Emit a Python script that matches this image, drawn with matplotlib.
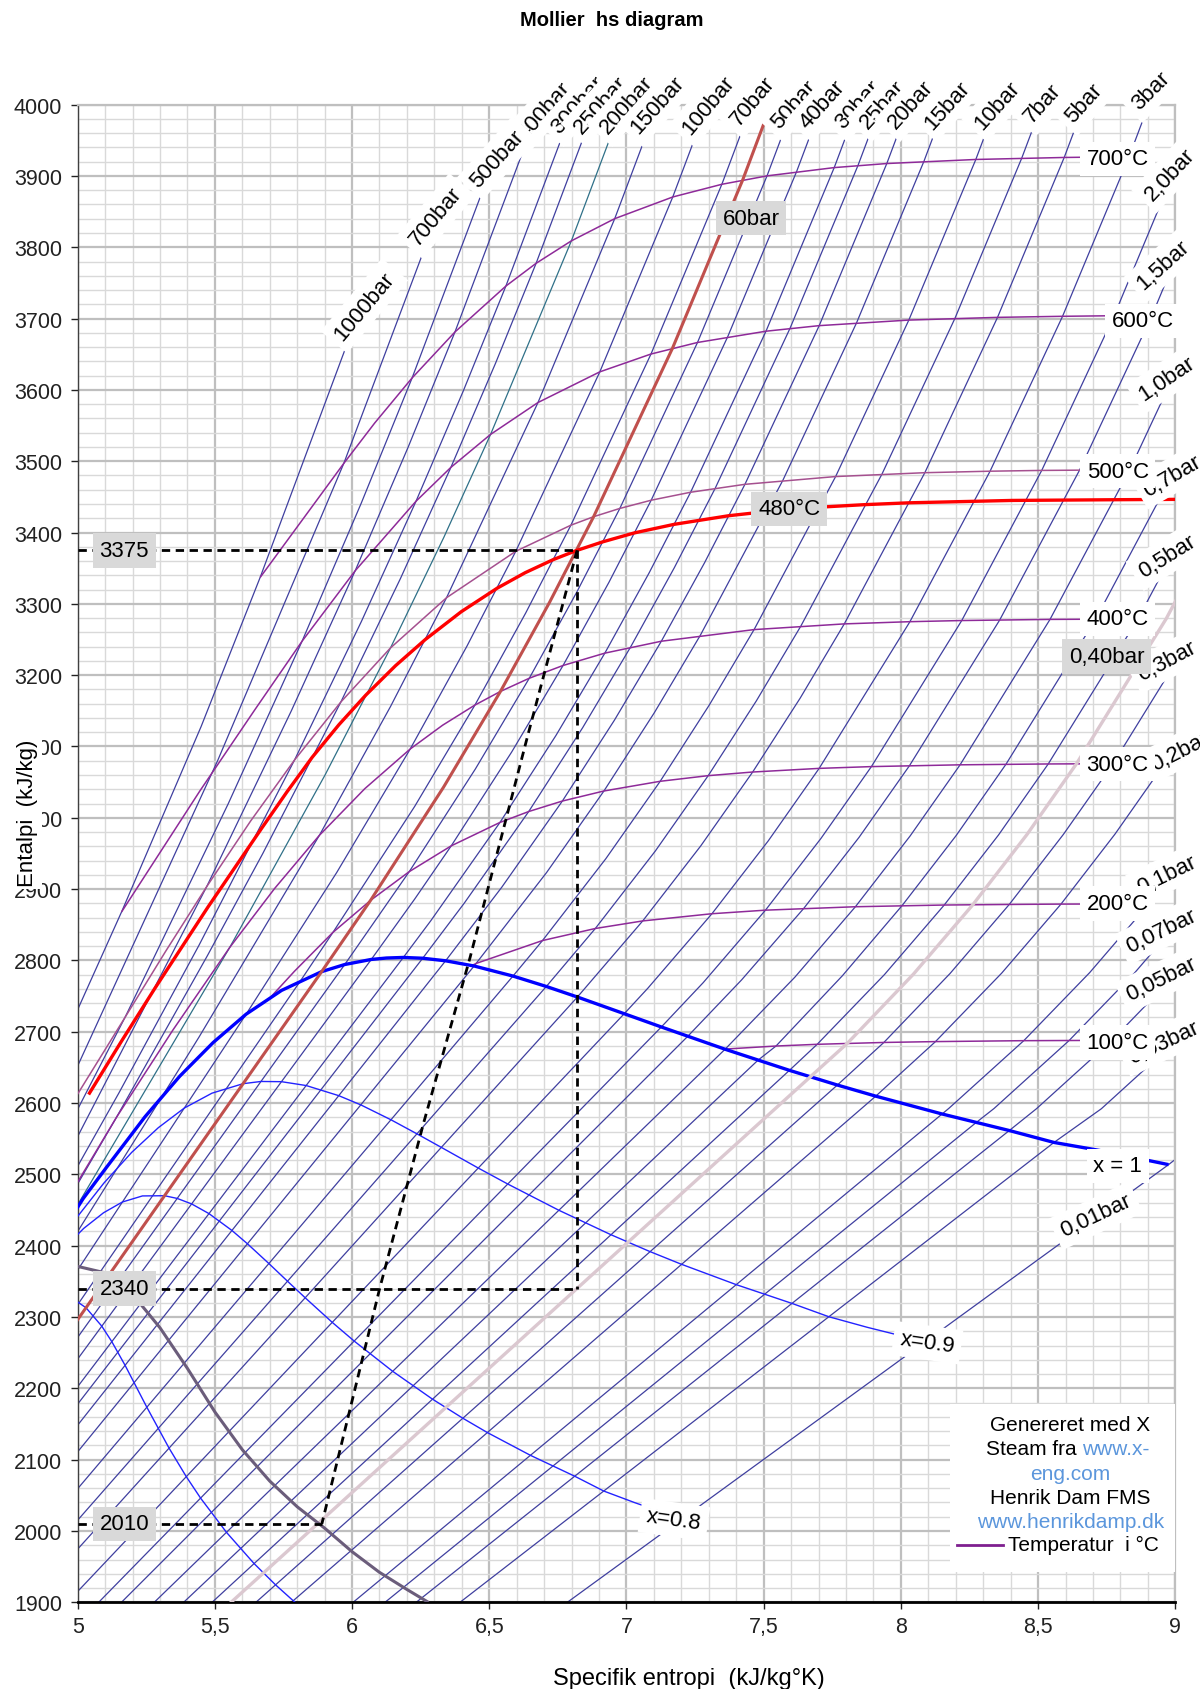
import matplotlib.pyplot as plt
from matplotlib.patches import Rectangle
from matplotlib.ticker import MultipleLocator, FuncFormatter

plt.rcParams['font.family'] = ['Liberation Sans', 'DejaVu Sans']

# ---------------- isobars, points (s kJ/kgK, h kJ/kg) ----------------
bar_1000 = [(4.90, 2645), (5.00, 2731), (5.16, 2868), (5.45, 3128), (5.665, 3337), (5.967, 3649), (6.06, 3745)]
bar_700 = [(4.90, 2570), (5.00, 2652), (5.51, 3080), (5.97, 3497), (6.31, 3845)]
bar_500 = [(4.5884, 2284.0), (5.1726, 2720.1), (5.5485, 3019.5), (5.8178, 3247.6), (6.0342, 3441.8),
           (6.2189, 3616.8), (6.5290, 3933.6)]
bar_400 = [(4.5029, 2198.1), (4.9459, 2512.8), (5.4700, 2903.3), (5.7785, 3149.8), (6.0114, 3346.4),
           (6.2054, 3520.6), (6.3750, 3681.2), (6.6662, 3978.7)]
bar_300 = [(4.4728, 2151.1), (5.1504, 2614.2), (5.4424, 2821.4), (5.7905, 3081.1), (6.0342, 3275.4),
           (6.2331, 3443.9), (6.4058, 3598.9), (6.5606, 3745.6), (6.8332, 4024.2)]
bar_250 = [(4.0320, 1848.0), (5.1418, 2580.2), (5.4723, 2806.3), (5.6744, 2949.7), (5.9592, 3162.4),
           (6.1765, 3335.6), (6.3602, 3491.4), (6.5229, 3637.4), (6.6707, 3777.5), (6.9345, 4047.1)]
bar_200 = [(4.0146, 1826.3), (4.9269, 2409.7), (5.5540, 2818.1), (5.9017, 3060.1), (6.1401, 3238.2),
           (6.3348, 3393.5), (6.5048, 3537.6), (6.7993, 3809.0), (7.0544, 4069.7)]
bar_150 = [(3.6848, 1610.5), (5.3098, 2610.5), (5.4421, 2692.4), (5.8811, 2975.5), (6.1404, 3156.2),
           (6.3443, 3308.6), (6.6776, 3582.3), (6.9572, 3840.1), (7.2040, 4092.4)]
bar_100 = [(3.3596, 1407.6), (5.6141, 2724.7), (5.9443, 2923.4), (6.2120, 3096.5), (6.4190, 3240.9),
           (6.5966, 3373.7), (6.9029, 3625.3), (7.1687, 3870.5), (7.4077, 4114.9)]
bar_70 = [(3.1220, 1267.0), (5.8133, 2772.1), (5.9305, 2839.4), (6.2283, 3016.0), (6.4478, 3158.1),
          (6.6327, 3287.1), (6.7975, 3410.3), (7.0894, 3650.3), (7.3476, 3888.3), (7.5822, 4128.2)]
bar_60 = [(3.0267, 1213.4), (5.8892, 2784.3), (6.0674, 2884.2), (6.3335, 3043.0), (6.5408, 3177.2),
          (6.7193, 3301.8), (6.8803, 3422.2), (7.1677, 3658.4), (7.4234, 3894.2), (7.6566, 4132.7)]
bar_50 = [(2.9202, 1154.2), (5.9734, 2794.3), (6.2084, 2924.5), (6.4493, 3068.4), (6.6459, 3195.7),
          (6.8186, 3316.2), (6.9759, 3433.8), (7.2589, 3666.5), (7.5122, 3900.1), (7.7440, 4137.1)]
bar_40 = [(2.7964, 1087.3), (6.0701, 2801.4), (6.2285, 2886.2), (6.3615, 2960.7), (6.5821, 3092.5),
          (6.7690, 3213.6), (6.9363, 3330.3), (7.0901, 3445.3), (7.3688, 3674.4), (7.6198, 3905.9),
          (7.8502, 4141.5)]
bar_30 = [(2.6457, 1008.4), (6.1869, 2804.2), (6.2872, 2855.8), (6.5390, 2993.5), (6.7428, 3115.3),
          (6.9212, 3230.9), (7.0834, 3344.0), (7.2338, 3456.5), (7.5085, 3682.3), (7.7571, 3911.7),
          (7.9862, 4145.9)]
bar_25 = [(2.5547, 962.1), (6.2575, 2803.1), (6.4085, 2880.1), (6.6438, 3008.8), (6.8403, 3126.3),
          (7.0148, 3239.3), (7.1746, 3350.8), (7.3234, 3462.1), (7.5960, 3686.3), (7.8435, 3914.5),
          (8.0720, 4148.2)]
bar_20 = [(2.4474, 908.8), (6.3409, 2799.5), (6.5453, 2902.5), (6.7664, 3023.5), (6.9563, 3137.0),
          (7.1271, 3247.6), (7.2844, 3357.5), (7.4317, 3467.6), (7.7024, 3690.1), (7.9487, 3917.4),
          (8.1765, 4150.3)]
bar_15 = [(2.3150, 844.9), (6.4448, 2792.2), (6.7090, 2923.3), (6.9179, 3037.6), (7.1018, 3147.5),
          (7.2690, 3255.8), (7.5698, 3473.1), (7.8385, 3694.0), (8.0838, 3920.3), (8.3108, 4152.6)]
bar_10 = [(2.1387, 762.8), (6.5865, 2778.1), (6.6940, 2827.9), (6.9247, 2942.6), (7.1229, 3051.2),
          (7.3011, 3157.7), (7.4651, 3263.9), (7.7622, 3478.5), (8.0290, 3697.9), (8.2731, 3923.1),
          (8.4996, 4154.8)]
bar_7 = [(1.9922, 697.2), (6.7080, 2763.5), (6.8865, 2844.8), (7.1053, 2953.5), (7.2979, 3059.1),
         (7.4731, 3163.8), (7.6353, 3268.7), (7.9308, 3481.7), (8.1969, 3700.2), (8.4403, 3924.8),
         (8.6665, 4156.0)]
bar_5 = [(1.8607, 640.2), (6.8213, 2748.7), (7.0592, 2855.4), (7.2709, 2960.7), (7.4599, 3064.2),
         (7.6329, 3167.7), (7.7938, 3271.9), (8.0873, 3483.9), (8.3522, 3701.7), (8.5952, 3925.9),
         (8.8211, 4156.9)]
bar_3 = [(1.6718, 561.5), (6.9919, 2725.3), (7.0778, 2761.0), (7.3115, 2865.5), (7.5166, 2967.6),
         (7.7022, 3069.3), (8.0330, 3275.0), (8.3251, 3486.0), (8.5892, 3703.2), (8.8319, 3927.1),
         (9.0575, 4157.8)]
bar_2 = [(1.5301, 504.7), (7.1271, 2706.7), (7.2795, 2768.8), (7.5066, 2870.5), (7.7086, 2971.0),
         (7.8926, 3071.8), (8.2218, 3276.6), (8.5133, 3487.1), (8.7770, 3704.0), (9.0194, 3927.6)]
bar_1_5 = [(1.4336, 467.1), (7.2233, 2693.6), (7.4193, 2772.6), (7.6459, 2872.9), (7.8478, 2972.7),
           (8.0314, 3073.1), (8.3602, 3277.4), (8.6513, 3487.6), (8.9150, 3704.3), (9.1573, 3927.9)]
bar_1 = [(1.3026, 417.5), (7.3594, 2675.5), (7.6134, 2776.4), (7.8343, 2875.3), (8.0333, 2974.3),
         (8.2158, 3074.3), (8.5435, 3278.2), (8.8342, 3488.1), (9.0976, 3704.7)]
bar_0_7 = [(1.1919, 376.7), (7.4790, 2660.0), (7.5450, 2680.0), (7.7870, 2778.6), (8.0040, 2876.7),
           (8.2020, 2975.4), (8.3830, 3075.1), (8.7100, 3278.6), (9.0000, 3488.5)]
bar_0_5 = [(1.0910, 340.5), (7.5939, 2645.9), (7.6950, 2682.4), (7.9400, 2780.1), (8.1580, 2877.7),
           (8.3560, 2976.0), (8.5370, 3075.5), (8.8640, 3278.9), (9.1540, 3488.7)]
bar_0_4 = [(1.0259, 317.6), (7.6700, 2636.8), (7.8050, 2683.8), (8.0460, 2780.9), (8.2620, 2878.0),
           (8.4590, 2976.3), (8.6400, 3075.8), (8.9670, 3279.2), (9.2570, 3488.9)]
bar_0_3 = [(0.9439, 289.2), (7.7686, 2625.3), (7.9380, 2685.0), (8.1790, 2781.6), (8.3950, 2878.5),
           (8.5920, 2976.6), (8.7735, 3076.0), (9.1003, 3279.3)]
bar_0_2 = [(0.8320, 251.4), (7.9085, 2609.7), (8.1261, 2686.2), (8.3676, 2782.3), (8.5835, 2879.0),
           (8.7800, 2977.0), (8.9612, 3076.3), (9.2876, 3279.5)]
bar_0_1 = [(0.6493, 191.8), (8.1502, 2584.7), (8.1749, 2592.6), (8.4479, 2687.5), (8.6882, 2783.0),
           (8.9038, 2879.5), (9.1002, 2977.3)]
bar_0_07 = [(0.5592, 163.4), (8.2737, 2572.5), (8.3395, 2592.4), (8.6125, 2687.5), (8.8528, 2783.0),
            (9.0684, 2879.5)]
bar_0_05 = [(0.4764, 137.8), (8.3951, 2561.5), (8.4948, 2592.3), (8.7678, 2687.5), (9.0081, 2783.0)]
bar_0_03 = [(0.3543, 101.0), (8.5580, 2544.8), (8.7305, 2592.0), (9.0035, 2687.5)]
bar_0_01 = [(0.1059, 29.3), (8.9756, 2513.7), (9.2375, 2592.6)]

# ---------------- isotherms ----------------
t100 = [(7.3549, 2675.6), (7.5450, 2680.0), (7.6950, 2682.4), (7.9380, 2685.0), (8.1261, 2686.2),
        (8.4479, 2687.5), (8.79, 2688.0)]
t200 = [(6.4312, 2792.0), (6.4537, 2796.0), (6.6940, 2827.9), (6.8865, 2844.8), (7.0592, 2855.4),
        (7.3115, 2865.5), (7.5066, 2870.5), (7.8343, 2875.3), (8.1580, 2877.7), (8.3950, 2878.5),
        (8.5835, 2879.0), (8.79, 2879.2)]
t300 = [(5.7045, 2749.0), (5.7906, 2785.0), (5.9305, 2839.4), (6.0674, 2884.2), (6.2084, 2924.5),
        (6.3615, 2960.7), (6.5390, 2993.5), (6.6438, 3008.8), (6.7664, 3023.5), (6.9179, 3037.6),
        (7.1229, 3051.2), (7.2979, 3059.1), (7.4599, 3064.2), (7.7022, 3069.3), (7.8926, 3071.8),
        (8.2158, 3074.3), (8.5370, 3075.5), (8.79, 3075.9)]
t400 = [(4.4728, 2151.1), (5.1418, 2580.2), (5.348, 2702.9), (5.5540, 2818.1), (5.7176, 2900.8),
        (5.8811, 2975.5), (6.0466, 3040.9), (6.2120, 3096.5), (6.3299, 3129.8), (6.4478, 3158.1),
        (6.5408, 3177.2), (6.6459, 3195.7), (6.7690, 3213.6), (6.9212, 3230.9), (7.1271, 3247.6),
        (7.4651, 3263.9), (7.7938, 3271.9), (8.0330, 3275.0), (8.2218, 3276.6), (8.5435, 3278.2),
        (8.79, 3278.6)]
t480 = [(5.04, 2612), (5.16, 2686.9), (5.28, 2760), (5.475, 2874.9), (5.67, 2985), (5.7625, 3036.2),
        (5.855, 3085), (5.9525, 3130.7), (6.05, 3172), (6.1585, 3213.3), (6.267, 3250), (6.398, 3289),
        (6.529, 3322), (6.631, 3343.7), (6.733, 3362), (6.816, 3374.5), (6.914, 3387), (7.029, 3399.5),
        (7.174, 3411.5), (7.373, 3423.6), (7.539, 3430.6), (7.705, 3435.6), (7.868, 3439.1),
        (8.031, 3441.7), (8.405, 3445.0), (8.779, 3446), (9.0, 3446.5)]
t500 = [(4.9321, 2570.4), (5.1726, 2720.1), (5.321, 2813.0), (5.4700, 2903.3), (5.63, 2995.3),
        (5.7905, 3081.1), (5.9592, 3162.4), (6.1401, 3238.2), (6.3443, 3308.6), (6.5966, 3373.7),
        (6.7975, 3410.3), (6.8803, 3422.2), (6.9759, 3433.8), (7.0901, 3445.3), (7.2338, 3456.5),
        (7.4317, 3467.6), (7.7622, 3478.5), (8.0873, 3483.9), (8.3251, 3486.0), (8.5133, 3487.1),
        (8.79, 3487.8)]
t600 = [(5.16, 2868), (5.446, 3038), (5.6452, 3151.2), (5.8178, 3247.6), (6.0114, 3346.4),
        (6.2331, 3443.9), (6.3602, 3491.4), (6.5048, 3537.6), (6.6776, 3582.3), (6.9029, 3625.3),
        (7.0894, 3650.3), (7.2589, 3666.5), (7.5085, 3682.3), (7.7024, 3690.1), (8.0290, 3697.9),
        (8.3522, 3701.7), (8.5892, 3703.2), (8.7770, 3704.0), (8.88, 3704.3)]
t700 = [(5.665, 3337), (5.97, 3497), (6.0824, 3553.5), (6.2189, 3616.8), (6.3750, 3681.2),
        (6.5606, 3745.6), (6.6707, 3777.5), (6.7993, 3809.0), (6.9572, 3840.1), (7.1687, 3870.5),
        (7.3476, 3888.3), (7.5122, 3900.1), (7.7571, 3911.7), (7.9487, 3917.4), (8.2731, 3923.1),
        (8.5952, 3925.9), (8.79, 3926.8)]

# ---------------- saturation and quality lines ----------------
x_1 = [(4.9269, 2409.7), (5.02, 2466.0), (5.1044, 2509.5), (5.2455, 2580.8), (5.3717, 2637.5),
       (5.4939, 2684.9), (5.6141, 2724.7), (5.7432, 2758.0), (5.8892, 2784.3), (5.9734, 2794.3),
       (6.0701, 2801.4), (6.1253, 2803.4), (6.1869, 2804.2), (6.2575, 2803.1), (6.3409, 2799.5),
       (6.4448, 2792.2), (6.5865, 2778.1), (6.7080, 2763.5), (6.8213, 2748.7), (6.9919, 2725.3),
       (7.1271, 2706.7), (7.3594, 2675.5), (7.5939, 2645.9), (7.7686, 2625.3), (7.9085, 2609.7),
       (8.1502, 2584.7), (8.3951, 2561.5), (8.5580, 2544.8), (8.7237, 2533.6), (8.9756, 2513.7)]
x_09 = [(4.8357, 2351.4), (4.9810, 2431.8), (5.0956, 2487.8), (5.1968, 2530.8), (5.2941, 2565.5),
        (5.3886, 2593.0), (5.4896, 2613.9), (5.6030, 2627.2), (5.6681, 2630.3), (5.7427, 2630.0),
        (5.8328, 2624.6), (5.9516, 2610.4), (6.0318, 2597.5), (6.1417, 2576.6), (6.2364, 2556.9),
        (6.3252, 2537.9), (6.4599, 2508.9), (6.5674, 2486.5), (6.7537, 2449.7), (6.9436, 2415.4),
        (7.0861, 2391.7), (7.2009, 2373.9), (7.4001, 2345.4), (7.6032, 2319.1), (7.7376, 2300.4),
        (7.8774, 2285.6), (8.0886, 2265.3)]
x_08 = [(4.7444, 2293.0), (4.8578, 2354.0), (4.9457, 2394.7), (5.0219, 2424.2), (5.0944, 2446.2),
        (5.1632, 2461.3), (5.2361, 2469.8), (5.3167, 2470.1), (5.3628, 2466.3), (5.4154, 2458.6),
        (5.4787, 2445.0), (5.5622, 2421.4), (5.6188, 2402.7), (5.6969, 2375.0), (5.7648, 2350.2),
        (5.8292, 2327.0), (5.9279, 2292.5), (6.0077, 2266.3), (6.1480, 2223.9), (6.2933, 2184.8),
        (6.4037, 2158.1), (6.4932, 2138.0), (6.6500, 2106.1), (6.8114, 2076.8), (6.9173, 2056.0),
        (7.0311, 2039.6), (7.2017, 2016.8)]
x_07 = [(4.6532, 2234.7), (4.8469, 2317.5), (4.9378, 2329.6), (4.9825, 2325.7), (5.0305, 2313.0),
        (5.0880, 2287.2), (5.1245, 2265.5), (5.1729, 2232.3), (5.2522, 2173.5), (5.3331, 2116.2),
        (5.3959, 2076.2), (5.4480, 2046.1), (5.5424, 1998.1), (5.6430, 1954.3), (5.7212, 1924.5),
        (5.7856, 1902.2), (5.8999, 1866.8)]
end_line = [(4.95, 2371), (5.0, 2371), (5.1, 2362), (5.2, 2332), (5.3, 2285), (5.4, 2228), (5.5, 2167),
            (5.6, 2114), (5.7, 2070), (5.8, 2034), (5.9, 2004), (6.0, 1971), (6.1, 1942), (6.2, 1918),
            (6.278, 1900)]

# expansion 60 bar / 480 °C down to 2010 kJ/kg
expansion = [(6.82, 3375), (6.64, 3115), (6.43, 2804), (6.26, 2571), (6.10, 2339), (5.89, 2010)]
h_marks = [3375, 2340, 2010]
s_marks = [6.82, 6.82, 5.89]

NAVY = '#3f3f9f'
PURPLE = '#8e2a99'
LABEL_SIZE = 16

fig = plt.figure(figsize=(12, 16.9), dpi=100)
ax = fig.add_axes([0.0647, 0.0513, 0.9147, 0.8862])
ax.set_xlim(5, 9)
ax.set_ylim(1900, 4000)

ax.xaxis.set_major_locator(MultipleLocator(0.5))
ax.xaxis.set_minor_locator(MultipleLocator(0.1))
ax.yaxis.set_major_locator(MultipleLocator(100))
ax.yaxis.set_minor_locator(MultipleLocator(20))
ax.xaxis.set_major_formatter(FuncFormatter(lambda v, _: f"{v:g}".replace('.', ',')))
ax.set_axisbelow(True)
ax.grid(which='major', color='#bfbfbf', lw=1.6)
ax.grid(which='minor', color='#d9d9d9', lw=1.0)
ax.tick_params(which='minor', length=0)
ax.tick_params(which='major', direction='out', length=5, width=1.0, labelsize=15.5, colors='#222222')
ax.tick_params(axis='y', pad=6)
ax.tick_params(axis='x', pad=5)
for side in ('top', 'right'):
    ax.spines[side].set_color('#bfbfbf')
    ax.spines[side].set_linewidth(1.6)
ax.spines['left'].set_color('#404040')
ax.spines['left'].set_linewidth(1.0)
ax.spines['bottom'].set_color('black')
ax.spines['bottom'].set_linewidth(2.0)


def draw(pts, **kw):
    s, h = zip(*pts)
    ax.plot(s, h, solid_capstyle='butt', solid_joinstyle='round', **kw)


plain_isobars = [bar_1000, bar_700, bar_500, bar_400, bar_300, bar_250, bar_150, bar_100, bar_70,
                 bar_50, bar_40, bar_30, bar_25, bar_20, bar_15, bar_10, bar_7, bar_5, bar_3, bar_2,
                 bar_1_5, bar_1, bar_0_7, bar_0_5, bar_0_3, bar_0_2, bar_0_1, bar_0_07, bar_0_05,
                 bar_0_03, bar_0_01]
for pts in plain_isobars:
    draw(pts, color=NAVY, lw=0.9, zorder=2)
draw(bar_200, color='#2f7088', lw=0.9, zorder=2)

for pts in (t100, t200, t300, t400, t600, t700):
    draw(pts, color=PURPLE, lw=1.1, zorder=3)
draw(t500, color='#a5508f', lw=1.1, zorder=3)

draw(x_07, color='#2323ff', lw=1.0, zorder=4)
draw(x_08, color='#2323ff', lw=1.0, zorder=4)
draw(x_09, color='#2323ff', lw=1.0, zorder=4)
draw(x_1, color='#0000ff', lw=2.4, zorder=4)

draw(bar_0_4, color='#dbc8d0', lw=2.4, zorder=5)
draw(end_line, color='#6b5d7b', lw=2.2, zorder=5)
draw(bar_60, color='#c0504d', lw=2.2, zorder=5)
draw(t480, color='#ff0000', lw=2.4, zorder=5)

# dashed process lines
dash = dict(color='black', lw=2.0, linestyle=(0, (3, 2)), zorder=6)
draw(expansion, **dash)
for h, s in zip(h_marks, s_marks):
    ax.plot([5.0, s], [h, h], **dash)
ax.plot([s_marks[0], s_marks[1]], [h_marks[0], h_marks[1]], **dash)

white = dict(boxstyle='square,pad=0.3', fc='white', ec='none')
grey = dict(boxstyle='square,pad=0.3', fc='#d9d9d9', ec='none')

# drawn in this order so later boxes overlap the earlier labels
isobar_labels = [
    ("1000bar", 6.045, 3718, 50), ("700bar", 6.305, 3844, 50), ("400bar", 6.700, 3992, 48),
    ("500bar", 6.530, 3925, 48), ("300bar", 6.826, 4000, 48), ("250bar", 6.907, 4000, 48),
    ("200bar", 7.003, 4000, 48), ("150bar", 7.113, 4000, 48), ("100bar", 7.298, 4000, 50),
    ("70bar", 7.460, 4005, 50), ("50bar", 7.610, 4000, 48), ("40bar", 7.714, 4000, 48),
    ("30bar", 7.844, 4000, 48), ("25bar", 7.933, 4000, 48), ("20bar", 8.036, 4000, 48),
    ("15bar", 8.170, 4000, 48), ("10bar", 8.353, 4000, 48), ("7bar", 8.516, 4002, 48),
    ("5bar", 8.667, 4002, 48), ("3bar", 8.910, 4020, 45),
    ("2,0bar", 8.98, 3903, 47), ("1,5bar", 8.957, 3776, 42), ("1,0bar", 8.97, 3616, 34),
    ("0,7bar", 8.99, 3480, 30), ("0,5bar", 8.97, 3367, 32), ("0,3bar", 8.97, 3220, 28),
    ("0,2bar", 9.02, 3094, 27), ("0,1bar", 8.97, 2921, 26), ("0,07bar", 8.95, 2842, 26),
    ("0,05bar", 8.95, 2774, 26), ("0,03bar", 8.957, 2685, 25), ("0,01bar", 8.71, 2442, 25),
]
for text, s, h, rot in isobar_labels:
    ax.text(s, h, text, rotation=rot, rotation_mode='anchor', ha='center', va='center',
            fontsize=LABEL_SIZE, bbox=white, clip_on=False, zorder=10)

isotherm_labels = [("700°C", 8.79, 3924), ("600°C", 8.883, 3697), ("500°C", 8.79, 3486),
                   ("400°C", 8.79, 3279), ("300°C", 8.79, 3075), ("200°C", 8.79, 2880),
                   ("100°C", 8.79, 2685)]
for text, s, h in isotherm_labels:
    ax.text(s, h, text, ha='center', va='center', fontsize=LABEL_SIZE, bbox=white, clip_on=False,
            zorder=11)

quality_labels = [("x = 1", 8.79, 2512, 0), ("x=0.9", 8.096, 2264, -8), ("x=0.8", 7.173, 2016, -8)]
for text, s, h, rot in quality_labels:
    ax.text(s, h, text, rotation=rot, ha='center', va='center', fontsize=LABEL_SIZE, bbox=white,
            clip_on=False, zorder=11)

grey_labels = [("60bar", 7.454, 3841), ("480°C", 7.593, 3433), ("0,40bar", 8.75, 3226)]
grey_labels += [(f"{h}", 5.17, h) for h in h_marks]
for text, s, h in grey_labels:
    ax.text(s, h, text, ha='center', va='center', fontsize=LABEL_SIZE, bbox=grey, clip_on=False,
            zorder=12)

# credits box
ax.add_patch(Rectangle((8.179, 1942), 0.821, 236, fc='white', ec='none', zorder=8))
BLUE = '#5b96dc'
cx = 8.617
ax.text(cx, 2150, "Genereret med X", ha='center', va='center', fontsize=15, zorder=9)
ax.text(8.660, 2116, "Steam fra ", ha='right', va='center', fontsize=15, zorder=9)
ax.text(8.660, 2116, "www.x-", ha='left', va='center', fontsize=15, color=BLUE, zorder=9)
ax.text(cx, 2081, "eng.com", ha='center', va='center', fontsize=15, color=BLUE, zorder=9)
ax.text(cx, 2047, "Henrik Dam FMS", ha='center', va='center', fontsize=15, zorder=9)
ax.text(cx, 2013, "www.henrikdamp.dk", ha='center', va='center', fontsize=15, color=BLUE, zorder=9)
ax.plot([8.205, 8.373], [1981, 1981], color='#7f1f8f', lw=2.0, zorder=9)
ax.text(8.391, 1981, "Temperatur  i °C", ha='left', va='center', fontsize=15, zorder=9)

fig.text(0.510, 1 - 21 / 1690, "Mollier  hs diagram", ha='center', va='center', fontsize=14.5,
         fontweight='bold')
fig.text(0.574, 1 - 1679 / 1690, "Specifik entropi  (kJ/kg°K)", ha='center', va='center', fontsize=17)
fig.text(0.0233, 0.519, "Entalpi  (kJ/kg)", rotation=90, ha='center', va='center', fontsize=16,
         bbox=dict(boxstyle='square,pad=0.15', fc='white', ec='none'))

fig.savefig('out.png', dpi=100)
